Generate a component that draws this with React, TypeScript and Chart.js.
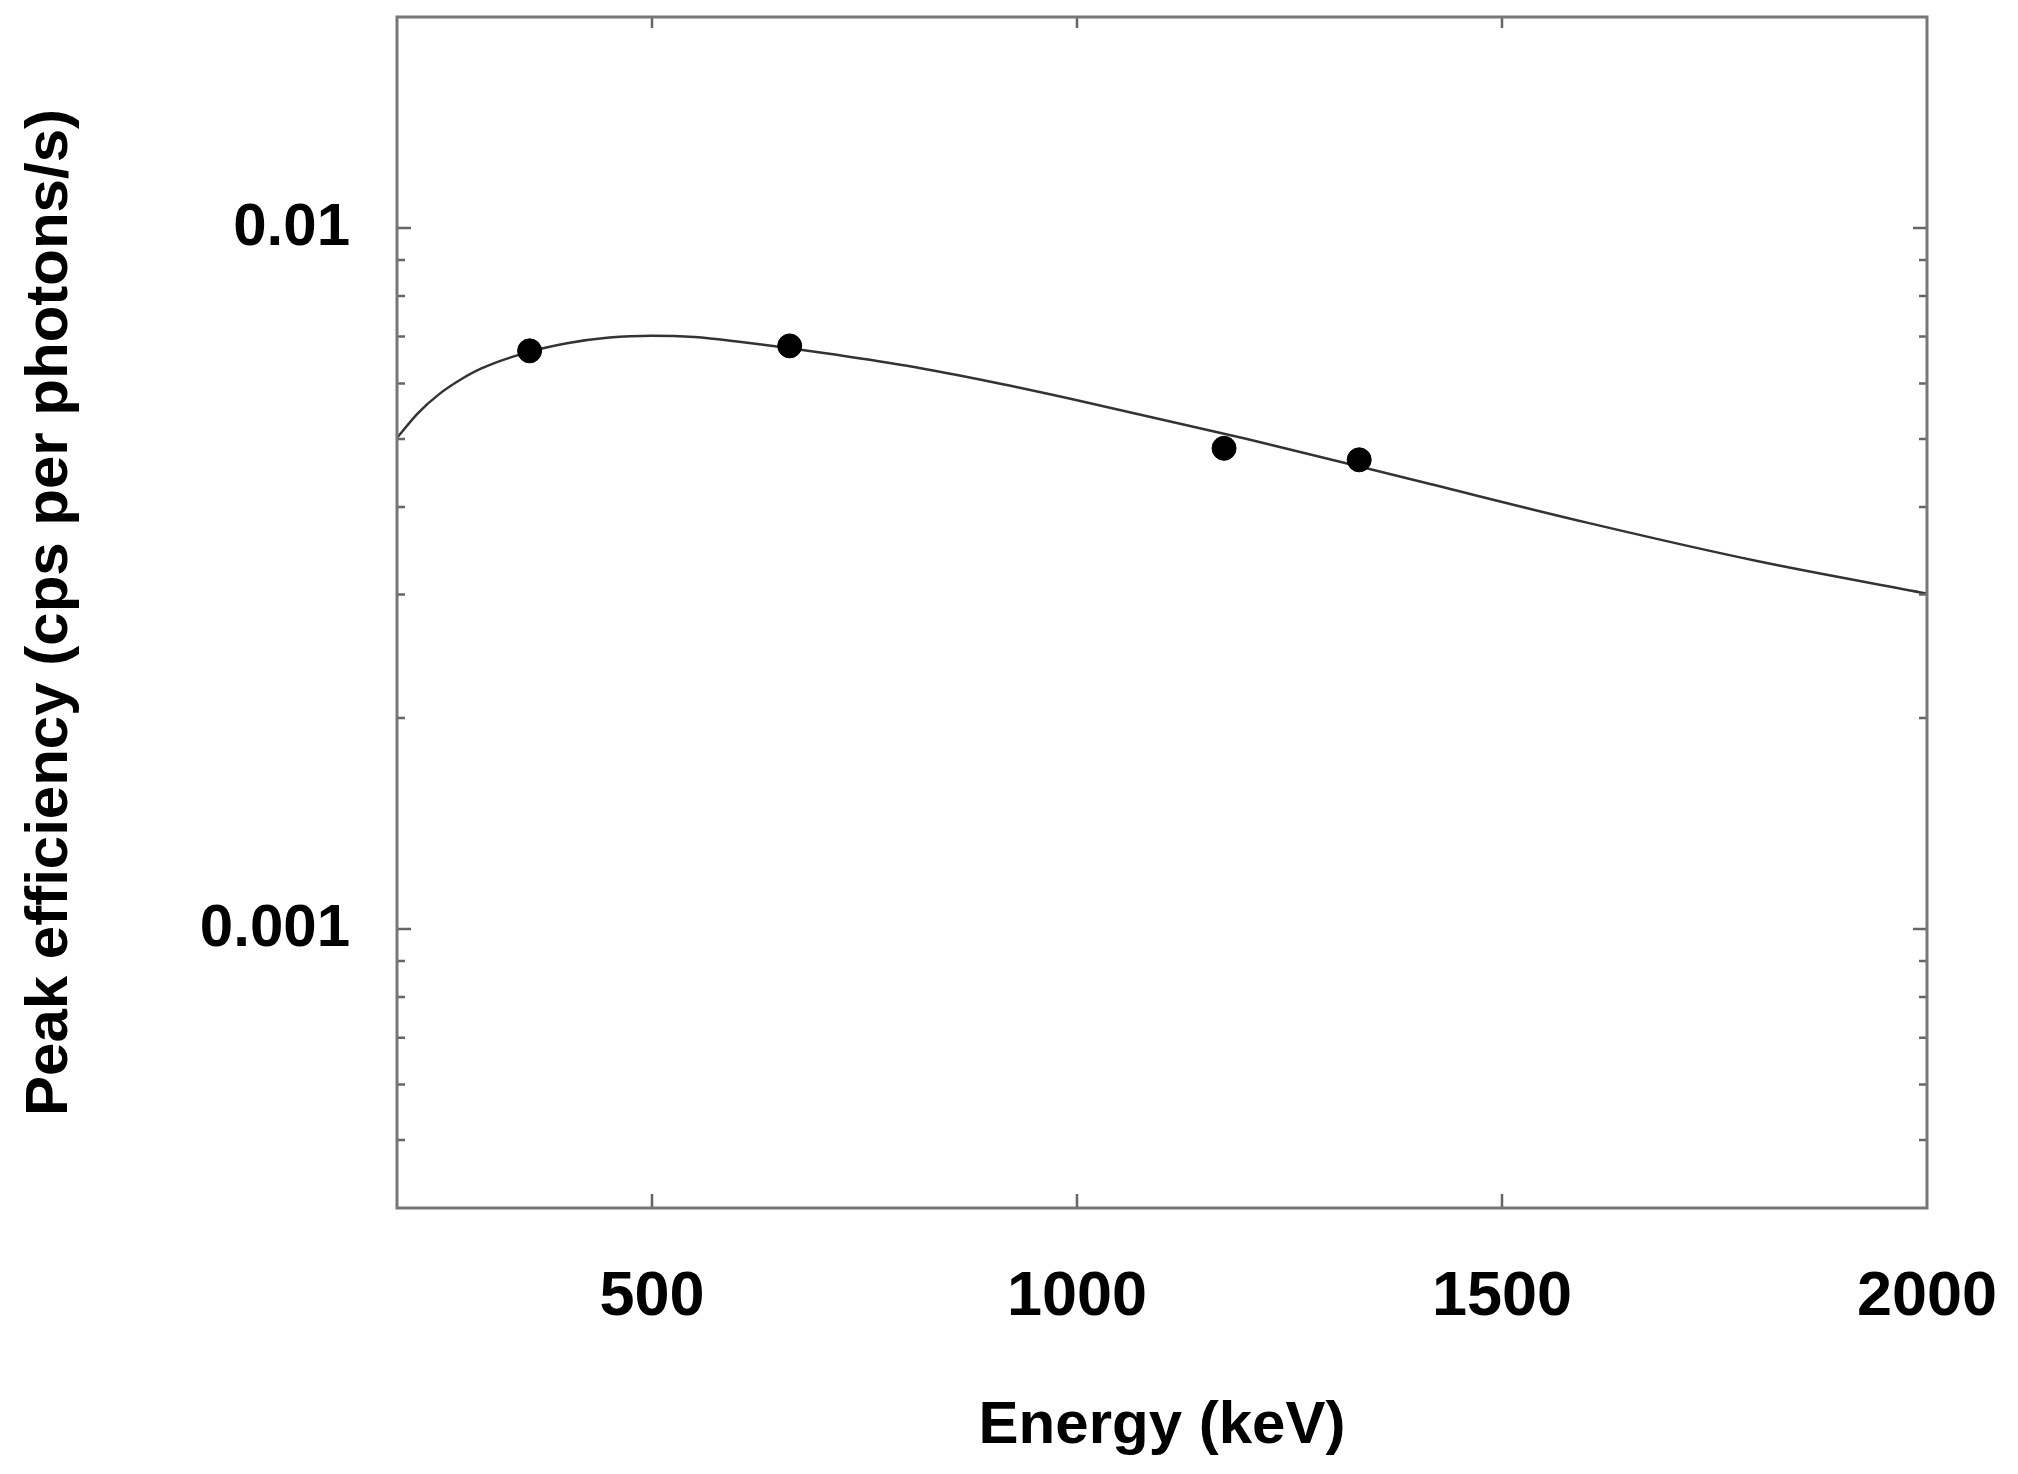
import { useEffect, useRef } from 'react';
import Chart from 'chart.js/auto';
import type { ChartConfiguration, Plugin } from 'chart.js';

// fitted efficiency curve
const curveEnergy = [200, 225, 250, 275, 300, 350, 400, 450, 500, 550, 600, 700, 800, 900, 1000, 1200, 1400, 1600, 1800, 2000];
const curveEff = [0.00502, 0.00545, 0.0058, 0.00608, 0.00631, 0.00663, 0.00685, 0.00698, 0.00702, 0.00699, 0.00689, 0.00664, 0.00636, 0.00603, 0.00568, 0.005, 0.00436, 0.0038, 0.00335, 0.00301];

// measured peaks (Ba-133, Cs-137, Co-60)
const pointEnergy = [356, 662, 1173, 1332];
const pointEff = [0.00668, 0.00679, 0.00485, 0.00467];

const xTicks = [500, 1000, 1500, 2000];
const yMajorTicks = [0.001, 0.01];
const yMinorTicks = [0.0005, 0.0006, 0.0007, 0.0008, 0.0009, 0.002, 0.003, 0.004, 0.005, 0.006, 0.007, 0.008, 0.009];

const FONT = '"Liberation Sans", Arial, sans-serif';

// frame + inward ticks on all four sides
const frameTicks: Plugin = {
  id: 'frameTicks',
  afterDraw(chart) {
    const { ctx, chartArea: a } = chart;
    const xs = chart.scales.x;
    const ys = chart.scales.y;
    ctx.save();
    ctx.strokeStyle = '#666';
    ctx.lineWidth = 2.5;
    ctx.beginPath();
    yMajorTicks.concat(yMinorTicks).forEach((v) => {
      const len = yMajorTicks.includes(v) ? 14 : 8;
      const py = ys.getPixelForValue(v);
      ctx.moveTo(a.left, py);
      ctx.lineTo(a.left + len, py);
      ctx.moveTo(a.right, py);
      ctx.lineTo(a.right - len, py);
    });
    xTicks.forEach((v) => {
      if (v >= 2000) return;
      const px = xs.getPixelForValue(v);
      ctx.moveTo(px, a.bottom);
      ctx.lineTo(px, a.bottom - 14);
      ctx.moveTo(px, a.top);
      ctx.lineTo(px, a.top + 11);
    });
    ctx.stroke();
    ctx.strokeStyle = '#777';
    ctx.lineWidth = 3;
    ctx.strokeRect(a.left, a.top, a.right - a.left, a.bottom - a.top);
    ctx.restore();
  },
};

export default function App() {
  const canvasRef = useRef<HTMLCanvasElement>(null);
  const chartRef = useRef<Chart | null>(null);

  useEffect(() => {
    if (!canvasRef.current) return;
    if (chartRef.current) chartRef.current.destroy();

    const config: ChartConfiguration = {
      type: 'scatter',
      data: {
        datasets: [
          {
            label: 'Measured',
            data: pointEnergy.map((e, i) => ({ x: e, y: pointEff[i] })),
            backgroundColor: '#000',
            borderColor: '#000',
            pointRadius: 12,
            showLine: false,
          },
          {
            label: 'Fit',
            data: curveEnergy.map((e, i) => ({ x: e, y: curveEff[i] })),
            showLine: true,
            borderColor: '#333',
            borderWidth: 2.5,
            pointRadius: 0,
            cubicInterpolationMode: 'monotone',
          },
        ],
      },
      options: {
        animation: false,
        responsive: true,
        maintainAspectRatio: false,
        layout: { padding: { left: 0, right: 91, top: 17, bottom: 0 } },
        plugins: { legend: { display: false }, tooltip: { enabled: false } },
        scales: {
          x: {
            type: 'linear',
            min: 200,
            max: 2000,
            grid: { display: false, drawTicks: false },
            border: { display: false },
            afterBuildTicks: (s) => {
              s.ticks = xTicks.map((v) => ({ value: v }));
            },
            afterFit: (s: any) => {
              s.height = 266;
              s.paddingLeft = 0;
              s.paddingRight = 0;
            },
            ticks: {
              color: '#000',
              padding: 52,
              maxRotation: 0,
              font: { family: FONT, size: 63, weight: 'bold' },
              callback: (v) => String(v),
            },
            title: {
              display: true,
              text: 'Energy (keV)',
              color: '#000',
              font: { family: FONT, size: 60, weight: 'bold' },
              padding: { top: 0, bottom: 12 },
            },
          },
          y: {
            type: 'logarithmic',
            min: 0.0004,
            max: 0.02,
            grid: { display: false, drawTicks: false },
            border: { display: false },
            afterBuildTicks: (s) => {
              s.ticks = yMajorTicks.map((v) => ({ value: v }));
            },
            afterFit: (s: any) => {
              s.width = 397;
              s.paddingTop = 0;
              s.paddingBottom = 0;
            },
            ticks: {
              color: '#000',
              padding: 47,
              font: { family: FONT, size: 60, weight: 'bold' },
              callback: (v) => String(v),
            },
            title: {
              display: true,
              text: 'Peak efficiency (cps per photons/s)',
              color: '#000',
              font: { family: FONT, size: 60, weight: 'bold' },
              padding: { top: 14, bottom: 0 },
            },
          },
        },
      },
      plugins: [frameTicks],
    };

    chartRef.current = new Chart(canvasRef.current, config);
    return () => {
      if (chartRef.current) {
        chartRef.current.destroy();
        chartRef.current = null;
      }
    };
  }, []);

  return (
    <div style={{ position: 'absolute', left: 0, top: 0, width: 2018, height: 1474, background: '#fff' }}>
      <canvas ref={canvasRef} />
    </div>
  );
}
